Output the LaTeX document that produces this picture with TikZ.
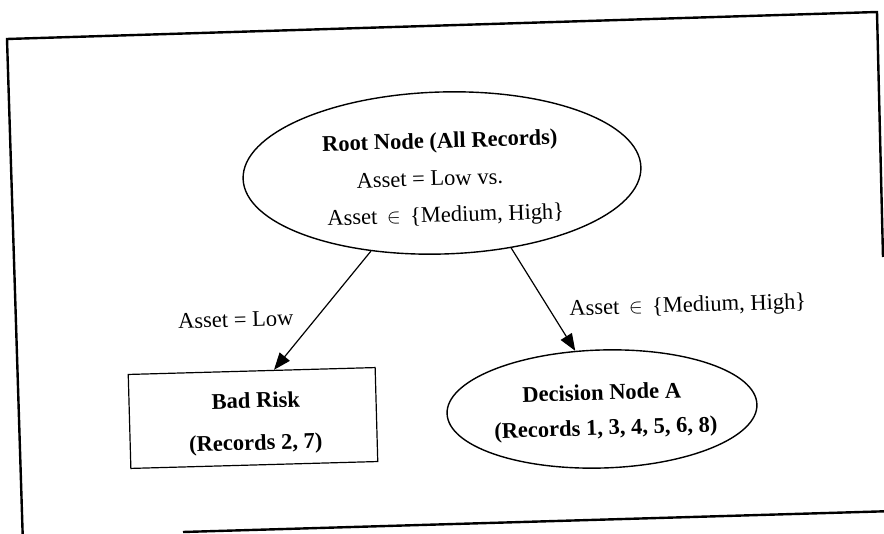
\documentclass[tikz,border=0pt]{standalone}
\usepackage{fontspec}
\setmainfont{Liberation Serif}
\usetikzlibrary{arrows.meta,calc,shapes.geometric}
\begin{document}
\begin{tikzpicture}[x=1pt,y=-1pt,
  txt/.style={font=\fontsize{22.5}{27}\selectfont, inner sep=0pt, anchor=base, rotate=1.7},
  bold/.style={txt, font=\fontsize{22.5}{27}\selectfont\bfseries},
  oval/.style={draw, ellipse, line width=1.4pt, inner sep=0pt, rotate=1.7},
  box/.style={draw, rectangle, line width=1.2pt, inner sep=0pt, rotate=1.6},
  arr/.style={-{Triangle[length=17pt,width=13pt]}, line width=1.2pt},
  frame/.style={line width=2.4pt}]
\useasboundingbox (0,0) rectangle (884,534);
\clip (0,0) rectangle (884,534);

% outer frame (partly broken at the lower right)
\coordinate (f1) at (7,39);
\coordinate (f2) at (877,12);
\coordinate (f3) at (883,257);
\coordinate (f4) at (23,545);
\coordinate (g1) at (183,532);
\coordinate (g2) at (895,511);
\draw[frame] (f4) -- (f1) -- (f2) -- (f3);
\draw[frame] (g1) -- (g2);

% root node
\node[oval, minimum width=398pt, minimum height=162pt] (root) at (442,173) {};
\node[bold] (r1) at (440,148) {Root Node (All Records)};
\node[txt] (r2) at (430,186) {Asset = Low vs.};
\node[txt] (r3) at (446,222) {Asset \,$\in$\, \{Medium, High\}};

% leaf: bad risk
\node[box, minimum width=247pt, minimum height=94pt] (bad) at (253,418) {};
\node[bold] (bad1) at (256,408) {Bad Risk};
\node[bold] (bad2) at (256,450) {(Records 2, 7)};

% decision node A
\node[oval, minimum width=310pt, minimum height=118pt] (dec) at (602,409) {};
\node[bold] (dec1) at (602,400) {Decision Node A};
\node[bold] (dec2) at (606,435) {(Records 1, 3, 4, 5, 6, 8)};

% branches
\draw[arr] (root.-134) -- ($(bad.north west)!0.59!(bad.north east)$);
\draw[arr] (root.-49) -- (dec.113);
\node[txt] (lowlab) at (236,327) {Asset = Low};
\node[txt] (highlab) at (688,312) {Asset \,$\in$\, \{Medium, High\}};
\end{tikzpicture}
\end{document}
